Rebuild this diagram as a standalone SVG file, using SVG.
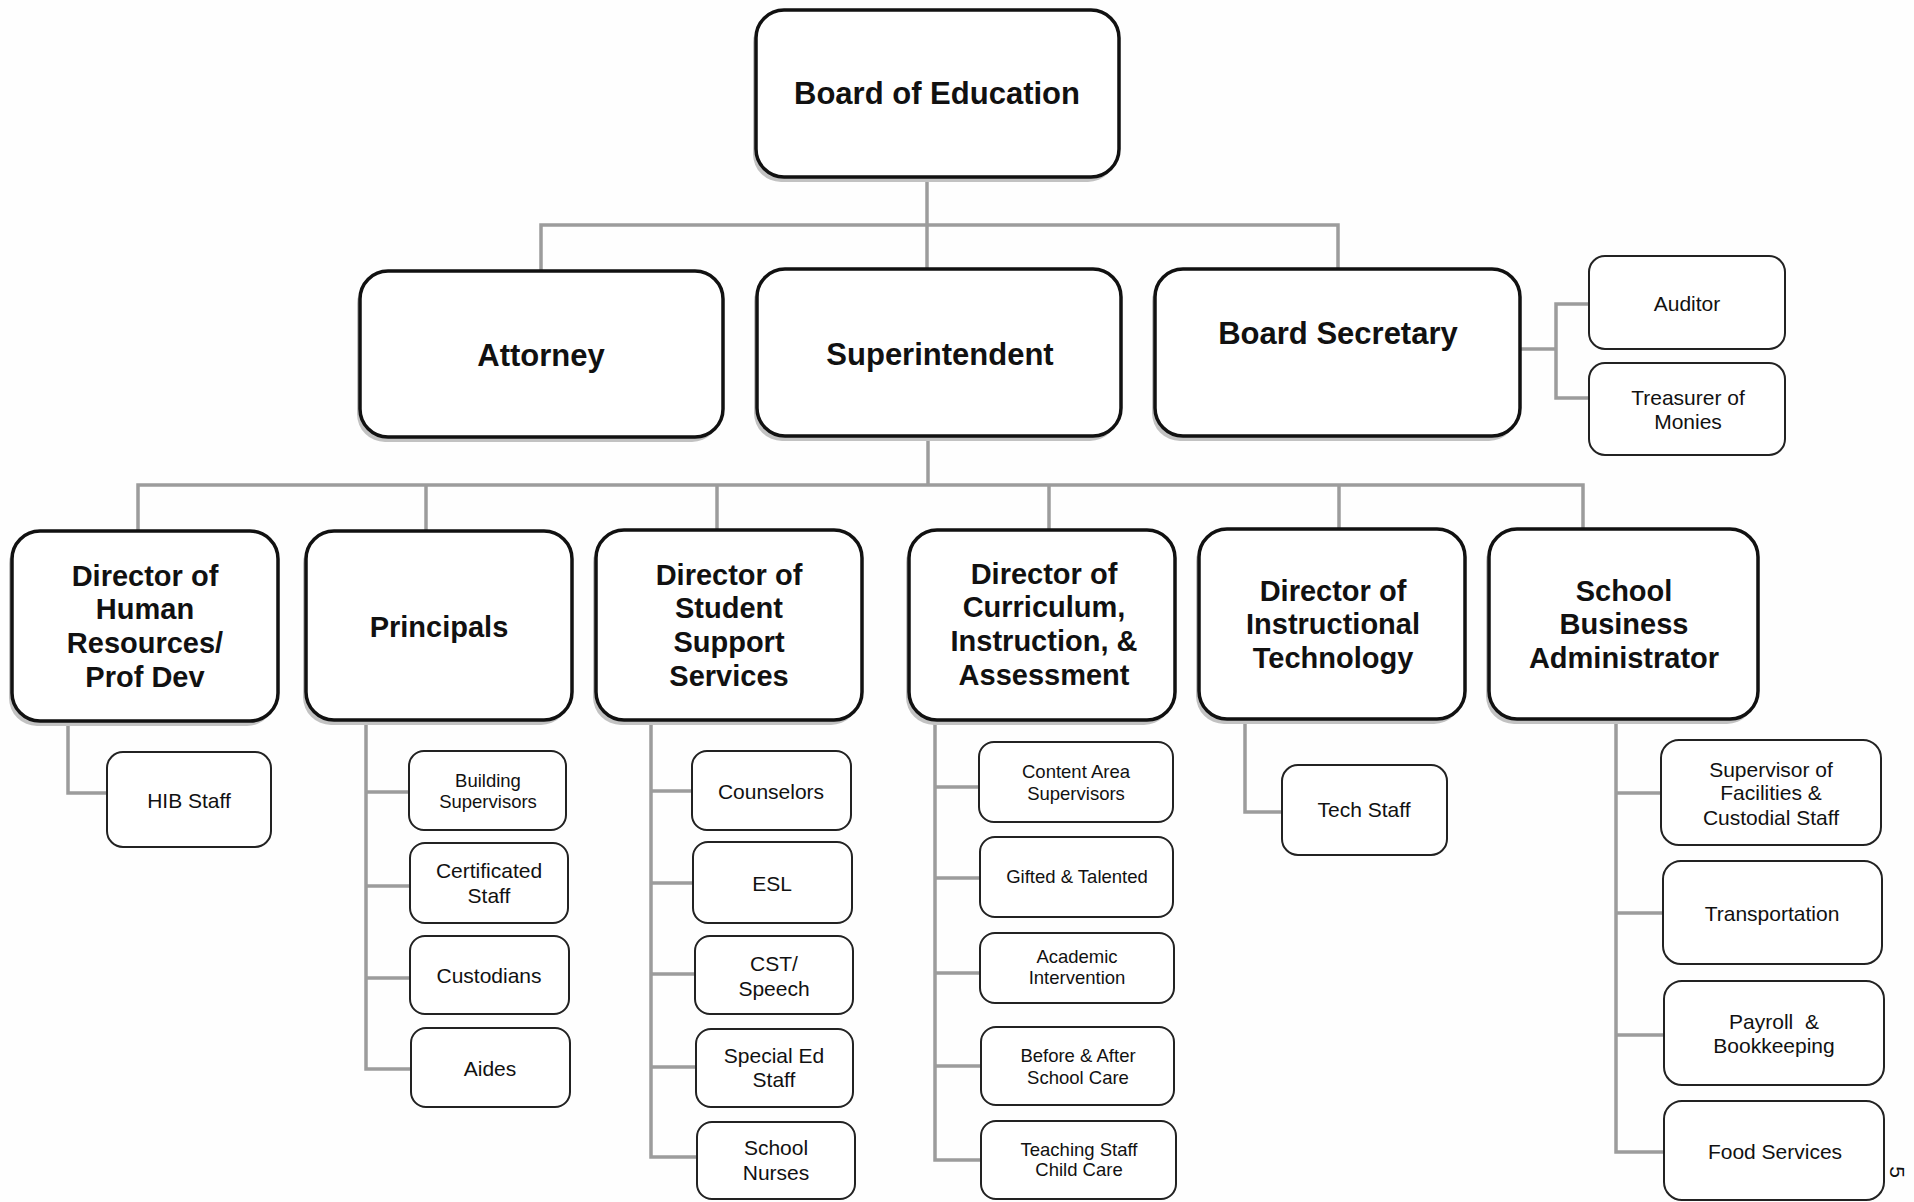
<svg xmlns="http://www.w3.org/2000/svg" width="1914" height="1202" viewBox="0 0 1914 1202">
<style>
.bg{fill:#fefefe}
.big{fill:#fff;stroke:#111;stroke-width:3.5}
.sh{fill:#c2c2c2}
.sm{fill:#fff;stroke:#222;stroke-width:2}
.c{fill:none;stroke:#9c9c9c;stroke-width:3.5;stroke-linejoin:miter}
text{font-family:"Liberation Sans",Arial,sans-serif;fill:#111;text-anchor:middle;dominant-baseline:central}
.t1{font-size:31px;font-weight:bold}
.t3{font-size:29px;font-weight:bold}
.t4{font-size:21px}
.t5{font-size:18.5px}
</style>
<rect class="bg" x="0" y="0" width="1914" height="1202"/>

<g id="connectors">
<path class="c" d="M927 177 V269"/>
<path class="c" d="M541 271 V225 H1338 V269"/>
<path class="c" d="M1520 349 H1556"/>
<path class="c" d="M1589 304 H1556 V398 H1589"/>
<path class="c" d="M928 436 V485"/>
<path class="c" d="M138 531 V485 H1583 V529"/>
<path class="c" d="M426 485 V531"/>
<path class="c" d="M717 485 V530"/>
<path class="c" d="M1049 485 V530"/>
<path class="c" d="M1339 485 V529"/>
<path class="c" d="M68 721 V793 H107"/>
<path class="c" d="M366 720 V1069 H411 M366 792 H409 M366 886 H410 M366 978 H410"/>
<path class="c" d="M651 720 V1157 H697 M651 791 H692 M651 883 H693 M651 974 H695 M651 1067 H696"/>
<path class="c" d="M935 720 V1160 H981 M935 787 H979 M935 878 H980 M935 973 H980 M935 1066 H981"/>
<path class="c" d="M1245 719 V812 H1282"/>
<path class="c" d="M1616 719 V1152 H1664 M1616 793 H1661 M1616 913 H1663 M1616 1035 H1664"/>
</g>

<g id="board-of-education">
<rect class="sh" x="753" y="15" width="363" height="167" rx="28"/>
<rect class="big" x="756" y="10" width="363" height="167" rx="28"/>
<text class="t1" x="937" y="93">Board of Education</text>
</g>

<g id="attorney">
<rect class="sh" x="357" y="276" width="363" height="166" rx="28"/>
<rect class="big" x="360" y="271" width="363" height="166" rx="28"/>
<text class="t1" x="541" y="355">Attorney</text>
</g>

<g id="superintendent">
<rect class="sh" x="754" y="274" width="364" height="167" rx="28"/>
<rect class="big" x="757" y="269" width="364" height="167" rx="28"/>
<text class="t1" x="940" y="354">Superintendent</text>
</g>

<g id="board-secretary">
<rect class="sh" x="1152" y="274" width="365" height="167" rx="28"/>
<rect class="big" x="1155" y="269" width="365" height="167" rx="28"/>
<text class="t1" x="1338" y="333">Board Secretary</text>
</g>

<g id="auditor">
<rect class="sm" x="1589" y="256" width="196" height="93" rx="16"/>
<text class="t4" x="1687" y="303">Auditor</text>
</g>

<g id="treasurer">
<rect class="sm" x="1589" y="363" width="196" height="92" rx="16"/>
<text class="t4" x="1688" y="397">Treasurer of</text>
<text class="t4" x="1688" y="421">Monies</text>
</g>

<g id="director-hr">
<rect class="sh" x="9" y="536" width="266" height="190" rx="28"/>
<rect class="big" x="12" y="531" width="266" height="190" rx="28"/>
<text class="t3" x="145" y="576">Director of</text>
<text class="t3" x="145" y="609">Human</text>
<text class="t3" x="145" y="643">Resources/</text>
<text class="t3" x="145" y="677">Prof Dev</text>
</g>

<g id="principals">
<rect class="sh" x="303" y="536" width="266" height="189" rx="28"/>
<rect class="big" x="306" y="531" width="266" height="189" rx="28"/>
<text class="t3" x="439" y="627">Principals</text>
</g>

<g id="director-student-support">
<rect class="sh" x="593" y="535" width="266" height="190" rx="28"/>
<rect class="big" x="596" y="530" width="266" height="190" rx="28"/>
<text class="t3" x="729" y="575">Director of</text>
<text class="t3" x="729" y="608">Student</text>
<text class="t3" x="729" y="642">Support</text>
<text class="t3" x="729" y="676">Services</text>
</g>

<g id="director-curriculum">
<rect class="sh" x="906" y="535" width="266" height="190" rx="28"/>
<rect class="big" x="909" y="530" width="266" height="190" rx="28"/>
<text class="t3" x="1044" y="574">Director of</text>
<text class="t3" x="1044" y="607">Curriculum,</text>
<text class="t3" x="1044" y="641">Instruction, &amp;</text>
<text class="t3" x="1044" y="675">Assessment</text>
</g>

<g id="director-instructional-technology">
<rect class="sh" x="1196" y="534" width="266" height="190" rx="28"/>
<rect class="big" x="1199" y="529" width="266" height="190" rx="28"/>
<text class="t3" x="1333" y="591">Director of</text>
<text class="t3" x="1333" y="624">Instructional</text>
<text class="t3" x="1333" y="658">Technology</text>
</g>

<g id="school-business-administrator">
<rect class="sh" x="1486" y="534" width="269" height="190" rx="28"/>
<rect class="big" x="1489" y="529" width="269" height="190" rx="28"/>
<text class="t3" x="1624" y="591">School</text>
<text class="t3" x="1624" y="624">Business</text>
<text class="t3" x="1624" y="658">Administrator</text>
</g>

<g id="hib-staff">
<rect class="sm" x="107" y="752" width="164" height="95" rx="16"/>
<text class="t4" x="189" y="800">HIB Staff</text>
</g>

<g id="building-supervisors">
<rect class="sm" x="409" y="751" width="157" height="79" rx="15"/>
<text class="t5" x="488" y="780">Building</text>
<text class="t5" x="488" y="801">Supervisors</text>
</g>
<g id="certificated-staff">
<rect class="sm" x="410" y="843" width="158" height="80" rx="15"/>
<text class="t4" x="489" y="870">Certificated</text>
<text class="t4" x="489" y="895">Staff</text>
</g>
<g id="custodians">
<rect class="sm" x="410" y="936" width="159" height="78" rx="15"/>
<text class="t4" x="489" y="975">Custodians</text>
</g>
<g id="aides">
<rect class="sm" x="411" y="1028" width="159" height="79" rx="15"/>
<text class="t4" x="490" y="1068">Aides</text>
</g>

<g id="counselors">
<rect class="sm" x="692" y="751" width="159" height="79" rx="15"/>
<text class="t4" x="771" y="791">Counselors</text>
</g>
<g id="esl">
<rect class="sm" x="693" y="842" width="159" height="81" rx="15"/>
<text class="t4" x="772" y="883">ESL</text>
</g>
<g id="cst-speech">
<rect class="sm" x="695" y="936" width="158" height="78" rx="15"/>
<text class="t4" x="774" y="963">CST/</text>
<text class="t4" x="774" y="988">Speech</text>
</g>
<g id="special-ed-staff">
<rect class="sm" x="696" y="1029" width="157" height="78" rx="15"/>
<text class="t4" x="774" y="1055">Special Ed</text>
<text class="t4" x="774" y="1079">Staff</text>
</g>
<g id="school-nurses">
<rect class="sm" x="697" y="1122" width="158" height="77" rx="15"/>
<text class="t4" x="776" y="1147">School</text>
<text class="t4" x="776" y="1172">Nurses</text>
</g>

<g id="content-area-supervisors">
<rect class="sm" x="979" y="742" width="194" height="80" rx="15"/>
<text class="t5" x="1076" y="771">Content Area</text>
<text class="t5" x="1076" y="793">Supervisors</text>
</g>
<g id="gifted-talented">
<rect class="sm" x="980" y="837" width="193" height="80" rx="15"/>
<text class="t5" x="1077" y="876">Gifted &amp; Talented</text>
</g>
<g id="academic-intervention">
<rect class="sm" x="980" y="933" width="194" height="70" rx="15"/>
<text class="t5" x="1077" y="956">Academic</text>
<text class="t5" x="1077" y="977">Intervention</text>
</g>
<g id="before-after-school-care">
<rect class="sm" x="981" y="1027" width="193" height="78" rx="15"/>
<text class="t5" x="1078" y="1055">Before &amp; After</text>
<text class="t5" x="1078" y="1077">School Care</text>
</g>
<g id="teaching-staff-child-care">
<rect class="sm" x="981" y="1121" width="195" height="78" rx="15"/>
<text class="t5" x="1079" y="1149">Teaching Staff</text>
<text class="t5" x="1079" y="1169">Child Care</text>
</g>

<g id="tech-staff">
<rect class="sm" x="1282" y="765" width="165" height="90" rx="16"/>
<text class="t4" x="1364" y="809">Tech Staff</text>
</g>

<g id="supervisor-facilities">
<rect class="sm" x="1661" y="740" width="220" height="105" rx="18"/>
<text class="t4" x="1771" y="769">Supervisor of</text>
<text class="t4" x="1771" y="792">Facilities &amp;</text>
<text class="t4" x="1771" y="817">Custodial Staff</text>
</g>
<g id="transportation">
<rect class="sm" x="1663" y="861" width="219" height="103" rx="18"/>
<text class="t4" x="1772" y="913">Transportation</text>
</g>
<g id="payroll-bookkeeping">
<rect class="sm" x="1664" y="981" width="220" height="104" rx="18"/>
<text class="t4" x="1774" y="1021" xml:space="preserve">Payroll  &amp;</text>
<text class="t4" x="1774" y="1045">Bookkeeping</text>
</g>
<g id="food-services">
<rect class="sm" x="1664" y="1101" width="220" height="99" rx="18"/>
<text class="t4" x="1775" y="1151">Food Services</text>
</g>

<text class="t4" x="1897" y="1172" transform="rotate(90 1897 1172)">5</text>
</svg>
